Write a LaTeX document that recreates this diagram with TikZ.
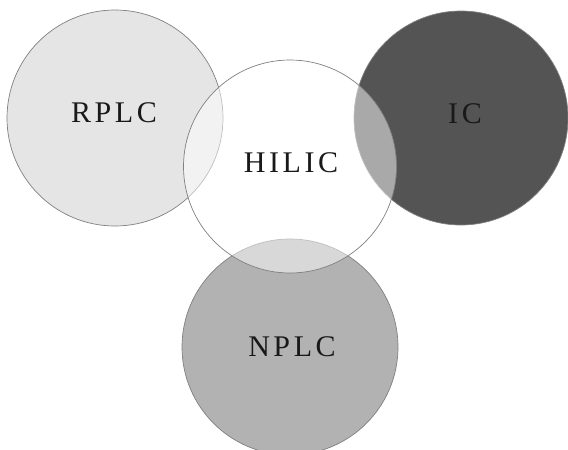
\documentclass[tikz,border=0pt]{standalone}
\usepackage{fontspec}
\setmainfont{Liberation Serif}[LetterSpace=12]
\begin{document}
\begin{tikzpicture}[x=1pt,y=-1pt,
  disc/.style={circle, draw=black!50, line width=0.7pt, inner sep=0pt},
  lab/.style={font=\fontsize{30}{32}\selectfont, text=black!90, inner sep=0pt}]
\useasboundingbox (0,0) rectangle (568,450);
\clip (0,0) rectangle (568,450);
\node[disc, fill=black!10, minimum size=216pt] (rplc) at (115,118) {};
\node[disc, fill=black!67, minimum size=214pt] (ic) at (461,118) {};
\node[disc, fill=black!30, minimum size=216pt] (nplc) at (290,347) {};
\node[disc, fill=white, fill opacity=0.5, minimum size=213pt] (hilic) at (290,166.5) {};
\node[lab] (trplc) at (114,113) {RPLC};
\node[lab] (tic) at (465,114) {IC};
\node[lab] (thilic) at (291,163) {HILIC};
\node[lab] (tnplc) at (292,347) {NPLC};
\end{tikzpicture}
\end{document}
